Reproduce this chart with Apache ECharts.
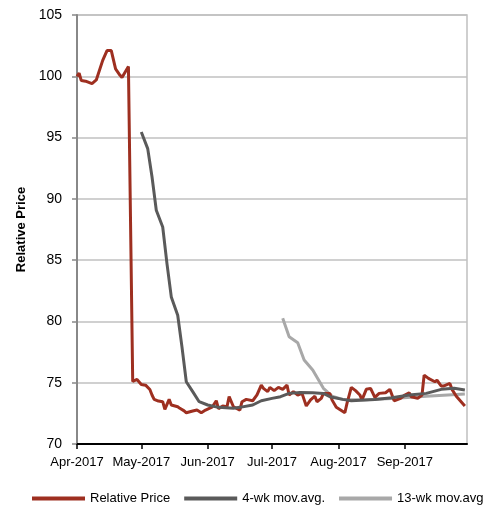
<!DOCTYPE html>
<html>
<head>
<meta charset="utf-8">
<script src="https://cdn.jsdelivr.net/npm/echarts@6/dist/echarts.min.js"></script>
<style>
html,body{margin:0;padding:0;background:#fff;}
#chart{width:483px;height:510px;}
</style>
</head>
<body>
<div id="chart"></div>
<script>
var seriesNames = ['Relative Price', '4-wk mov.avg.', '13-wk mov.avg'];
var monthLabels = ['Jan','Feb','Mar','Apr','May','Jun','Jul','Aug','Sep','Oct','Nov','Dec'];

var priceDates = ['2017-04-01','2017-04-02','2017-04-03','2017-04-05','2017-04-08','2017-04-10','2017-04-13','2017-04-15','2017-04-17','2017-04-19','2017-04-21','2017-04-22','2017-04-25','2017-04-27','2017-04-29','2017-05-01','2017-05-03','2017-05-05','2017-05-06','2017-05-07','2017-05-09','2017-05-11','2017-05-12','2017-05-14','2017-05-15','2017-05-18','2017-05-19','2017-05-21','2017-05-22','2017-05-25','2017-05-27','2017-05-29','2017-05-31','2017-06-03','2017-06-05','2017-06-06','2017-06-08','2017-06-10','2017-06-11','2017-06-13','2017-06-16','2017-06-17','2017-06-19','2017-06-22','2017-06-24','2017-06-26','2017-06-27','2017-06-29','2017-06-30','2017-07-02','2017-07-04','2017-07-06','2017-07-08','2017-07-09','2017-07-11','2017-07-13','2017-07-15','2017-07-17','2017-07-19','2017-07-21','2017-07-22','2017-07-24','2017-07-25','2017-07-28','2017-07-29','2017-07-31','2017-08-02','2017-08-04','2017-08-05','2017-08-07','2017-08-09','2017-08-11','2017-08-12','2017-08-14','2017-08-16','2017-08-18','2017-08-20','2017-08-23','2017-08-25','2017-08-27','2017-08-30','2017-09-01','2017-09-03','2017-09-04','2017-09-07','2017-09-09','2017-09-10','2017-09-12','2017-09-15','2017-09-16','2017-09-18','2017-09-19','2017-09-22','2017-09-23','2017-09-25','2017-09-29'];
var priceValues = [100.0,100.25,99.65,99.6,99.4,99.7,101.3,102.1,102.1,100.6,100.1,99.9,100.8,75.1,75.27,74.86,74.8,74.45,74.0,73.64,73.5,73.45,72.83,73.64,73.18,73.04,72.91,72.7,72.55,72.69,72.77,72.55,72.77,73.0,73.53,72.88,73.1,73.04,73.86,73.04,72.77,73.45,73.64,73.53,74.0,74.8,74.54,74.27,74.62,74.35,74.62,74.46,74.8,74.0,74.27,74.0,74.13,73.1,73.6,73.9,73.45,73.72,74.13,74.13,73.6,72.99,72.77,72.55,73.31,74.62,74.35,74.0,73.6,74.46,74.54,73.8,74.13,74.18,74.46,73.53,73.72,74.0,74.18,73.86,73.72,74.0,75.62,75.35,75.08,75.2,74.73,74.73,74.94,74.46,73.9,73.1];

var ma4Dates = ['2017-05-01','2017-05-04','2017-05-06','2017-05-08','2017-05-11','2017-05-13','2017-05-15','2017-05-18','2017-05-20','2017-05-22','2017-05-25','2017-05-28','2017-06-01','2017-06-06','2017-06-13','2017-06-16','2017-06-22','2017-06-26','2017-07-01','2017-07-05','2017-07-09','2017-07-14','2017-07-20','2017-07-25','2017-07-28','2017-08-03','2017-08-07','2017-08-18','2017-08-26','2017-09-03','2017-09-11','2017-09-18','2017-09-24','2017-09-29'];
var ma4Values = [95.45,94.1,91.8,89.07,87.7,84.7,82.0,80.5,77.9,75.08,74.27,73.45,73.18,72.99,72.91,72.99,73.18,73.53,73.72,73.86,74.13,74.2,74.18,74.13,73.86,73.64,73.53,73.64,73.77,74.0,74.13,74.46,74.54,74.4];

var ma13Dates = ['2017-07-06','2017-07-09','2017-07-13','2017-07-16','2017-07-20','2017-07-25','2017-07-29','2017-08-03','2017-08-13','2017-08-26','2017-09-11','2017-09-29'];
var ma13Values = [80.25,78.75,78.26,76.85,76.03,74.54,73.9,73.64,73.6,73.72,73.9,74.07];

var yTicks = [70, 75, 80, 85, 90, 95, 100, 105];

function pairs(d, v) { return d.map(function (x, i) { return [x, v[i]]; }); }

var FONT = "'Liberation Sans', Arial, sans-serif";
var chart = echarts.init(document.getElementById('chart'), null, {renderer: 'canvas'});
chart.setOption({
  animation: false,
  backgroundColor: '#ffffff',
  grid: {left: 77, right: 16, top: 15, bottom: 66, show: true, borderColor: '#c0c0c0', borderWidth: 1.5},
  legend: {
    left: 32, top: 492, width: 800,
    icon: 'rect', itemWidth: 53, itemHeight: 4, itemGap: 14, padding: 0,
    textStyle: {fontFamily: FONT, fontSize: 13, color: '#000'},
    data: seriesNames
  },
  xAxis: {
    type: 'time',
    min: '2017-04-01', max: '2017-09-30',
    minInterval: 28 * 86400000, maxInterval: 31 * 86400000,
    axisLine: {show: true, lineStyle: {color: '#000', width: 2}},
    axisTick: {show: true, length: 5, lineStyle: {color: '#000', width: 1.5}},
    splitLine: {show: false},
    axisLabel: {
      fontFamily: FONT, fontSize: 13, color: '#000', margin: 12,
      showMaxLabel: false,
      formatter: function (v) { var d = new Date(v); return monthLabels[d.getMonth()] + '-' + d.getFullYear(); }
    }
  },
  yAxis: {
    type: 'value', min: yTicks[0], max: yTicks[yTicks.length - 1], interval: 5,
    name: 'Relative Price', nameLocation: 'middle', nameGap: 49, nameRotate: 90,
    nameTextStyle: {fontFamily: FONT, fontSize: 13, fontWeight: 'bold', color: '#000'},
    axisLine: {show: true, lineStyle: {color: '#888888', width: 2}},
    axisTick: {show: true, inside: false, length: 5, lineStyle: {color: '#888888', width: 1.5}},
    splitLine: {show: true, lineStyle: {color: '#c0c0c0', width: 1.5}},
    axisLabel: {fontFamily: FONT, fontSize: 14, color: '#000', margin: 15}
  },
  series: [
    {name: seriesNames[0], type: 'line', data: pairs(priceDates, priceValues), showSymbol: false, color: '#9e2f20', lineStyle: {width: 3, color: '#9e2f20'}, z: 3},
    {name: seriesNames[1], type: 'line', data: pairs(ma4Dates, ma4Values), showSymbol: false, color: '#5a5a5a', lineStyle: {width: 3, color: '#5a5a5a'}, z: 4},
    {name: seriesNames[2], type: 'line', data: pairs(ma13Dates, ma13Values), showSymbol: false, color: '#a8a8a8', lineStyle: {width: 3, color: '#a8a8a8'}, z: 2}
  ]
});
</script>
</body>
</html>
